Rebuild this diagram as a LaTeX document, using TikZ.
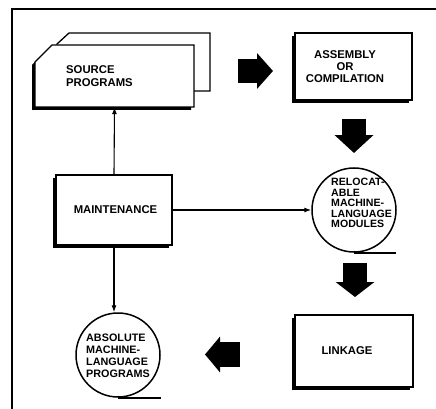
\documentclass[tikz,border=0pt]{standalone}
\usepackage{fontspec}
\setmainfont{Liberation Sans}
\usetikzlibrary{arrows.meta,shadows}
\begin{document}
\begin{tikzpicture}[x=1pt,y=-1pt,
  box/.style={draw, line width=1.3pt, fill=white, inner sep=0pt,
    drop shadow={shadow xshift=-3pt, shadow yshift=-3pt, opacity=1, fill=black}},
  tape/.style={draw, circle, line width=1.5pt, fill=white, inner sep=0pt, minimum size=84pt},
  lbl/.style={font=\bfseries\fontsize{11.3}{12}\selectfont, inner sep=0pt},
  arr/.style={line width=1.1pt, -{Latex[length=7pt,width=5pt]}},
  tail/.style={line width=2.2pt},
  frame/.style={line width=2.8pt},
  sheet/.style={draw, line width=1.3pt, fill=white},
]
\useasboundingbox (0,0) rectangle (436,409);
% frame
\draw[frame] (12,409) -- (12,9) -- (436,9);

% source programs (two stacked sheets)
\path[sheet] (57,44) -- (69,33) -- (210,33) -- (210,91) -- (57,91) -- cycle;
\fill[black] (32,65) -- (49,48) -- (191,48) -- (191,110) -- (32,110) -- cycle;
\path[sheet] (35,62) -- (52,45) -- (194,45) -- (194,107) -- (35,107) -- cycle;
\node[inner sep=0pt, minimum width=159pt, minimum height=62pt] (src) at (114.5,76) {};
\node[lbl, align=left, anchor=west] (srct) at (66,76.5) {SOURCE\\[1pt]PROGRAMS};

% boxes
\node[box, minimum width=117pt, minimum height=67pt] (asm) at (353.5,66.5) {};
\node[lbl, align=center] (asmt) at (345,67) {ASSEMBLY\\OR\\COMPILATION};

\node[box, minimum width=116pt, minimum height=70pt] (mnt) at (114,210) {};
\node[lbl] (mntt) at (115.5,209.5) {MAINTENANCE};

\node[box, minimum width=118pt, minimum height=72pt] (lnk) at (354,351) {};
\node[lbl] (lnkt) at (347,351) {LINKAGE};

% tape reels
\node[tape] (rel) at (354,210) {};
\draw[tail] (rel.south) -- ++(42,0) coordinate (relend);
\node[lbl, font=\bfseries\fontsize{10.6}{10.4}\selectfont, align=left, anchor=west] (relt) at (331,203)
  {RELOCAT-\\ABLE\\MACHINE-\\LANGUAGE\\MODULES};

\node[tape] (abs) at (118,355) {};
\draw[tail] (abs.south) -- ++(43,0) coordinate (absend);
\node[lbl, font=\bfseries\fontsize{10.8}{12}\selectfont, align=left, anchor=west] (abst) at (86,356)
  {ABSOLUTE\\MACHINE-\\LANGUAGE\\PROGRAMS};

% thin connectors
\draw[arr] (mnt.north) -- (src.south);
\draw[arr] (mnt.east) -- (rel.west);
\draw[arr] (mnt.south) -- (mnt.south |- abs.north);

% block arrows
\coordinate (b1s) at (238,71);  \coordinate (b1e) at (273,71);
\coordinate (b2s) at (354,119); \coordinate (b2e) at (354,153);
\coordinate (b3s) at (355,263); \coordinate (b3e) at (355,297);
\coordinate (b4s) at (240,354.5); \coordinate (b4e) at (205,354.5);
\draw[line width=24pt, -{Triangle[length=16pt,width=35pt]}] (b1s) -- (b1e);
\draw[line width=24pt, -{Triangle[length=18pt,width=38pt]}] (b2s) -- (b2e);
\draw[line width=24pt, -{Triangle[length=15pt,width=38pt]}] (b3s) -- (b3e);
\draw[line width=25pt, -{Triangle[length=15pt,width=35pt]}] (b4s) -- (b4e);
\end{tikzpicture}
\end{document}
